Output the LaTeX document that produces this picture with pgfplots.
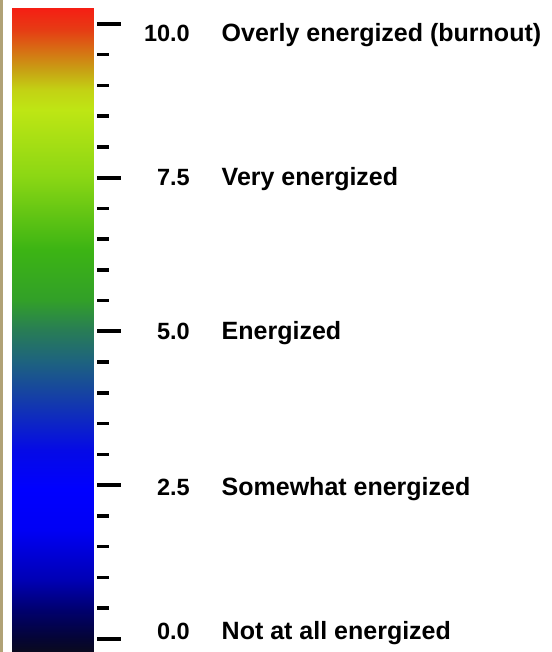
\documentclass[border=0pt]{standalone}
\usepackage{pgfplots}
\pgfplotsset{compat=1.18}
\usepackage{fontspec}
\setmainfont{Liberation Sans}
\definecolor{frametan}{RGB}{176,162,118}
\pgfplotsset{colormap={energy}{
 rgb255(0pt)=(10,10,30)
 rgb255(19pt)=(5,5,50)
 rgb255(68pt)=(0,0,110)
 rgb255(117pt)=(0,0,180)
 rgb255(198pt)=(0,0,245)
 rgb255(263pt)=(0,0,255)
 rgb255(328pt)=(5,10,230)
 rgb255(410pt)=(20,60,170)
 rgb255(475pt)=(30,100,125)
 rgb255(523pt)=(40,125,85)
 rgb255(572pt)=(50,160,40)
 rgb255(654pt)=(60,180,20)
 rgb255(774pt)=(140,215,20)
 rgb255(881pt)=(190,230,20)
 rgb255(914pt)=(195,210,20)
 rgb255(946pt)=(200,160,20)
 rgb255(979pt)=(215,110,20)
 rgb255(1011pt)=(230,60,20)
 rgb255(1046pt)=(245,30,20)
}}
\pgfplotstableread{
x y
0 -0.2114
81 -0.2114
0 -0.02
81 -0.02
0 0.47
81 0.47
0 0.96
81 0.96
0 1.77
81 1.77
0 2.42
81 2.42
0 3.07
81 3.07
0 3.89
81 3.89
0 4.54
81 4.54
0 5.02
81 5.02
0 5.51
81 5.51
0 6.33
81 6.33
0 7.53
81 7.53
0 8.60
81 8.60
0 8.93
81 8.93
0 9.25
81 9.25
0 9.58
81 9.58
0 9.90
81 9.90
0 10.255
81 10.255
}\bardata
\begin{document}
\begin{tikzpicture}
\fill[frametan] (0,0) rectangle (3pt,652pt);
\begin{axis}[
  at={(12pt,0pt)}, anchor=south west,
  scale only axis, width=85pt, height=643.7pt,
  xmin=0, xmax=85, ymin=-0.2114, ymax=10.255,
  axis x line=none,
  axis y line*=right,
  axis line style={draw=none},
  xtick=\empty,
  ytick={0,2.5,5,7.5,10},
  minor y tick num=4,
  tick align=outside,
  yticklabels={,,,,},
  major tick length=23.5pt,
  minor tick length=11.5pt,
  every major tick/.append style={line width=4pt, black},
  every minor tick/.append style={line width=3.5pt, black},
  colormap name=energy,
  point meta min=-0.2114, point meta max=10.255,
  clip=false,
]
\addplot[surf, shader=interp, mesh/cols=2, point meta=y, draw=none] table {\bardata};
\begin{scope}[every node/.style={inner sep=0pt, black}]
\node[anchor=base east, font=\fontsize{23.5}{28}\selectfont\bfseries] at (axis cs:178,9.707) {10.0};
\node[anchor=base east, font=\fontsize{23.5}{28}\selectfont\bfseries] at (axis cs:178,7.38) {7.5};
\node[anchor=base east, font=\fontsize{23.5}{28}\selectfont\bfseries] at (axis cs:178,4.873) {5.0};
\node[anchor=base east, font=\fontsize{23.5}{28}\selectfont\bfseries] at (axis cs:178,2.341) {2.5};
\node[anchor=base east, font=\fontsize{23.5}{28}\selectfont\bfseries] at (axis cs:178,-0.016) {0.0};
\node[anchor=base west, font=\fontsize{25}{30}\selectfont\bfseries] at (axis cs:209.5,9.707) {Overly energized (burnout)};
\node[anchor=base west, font=\fontsize{25}{30}\selectfont\bfseries] at (axis cs:209.5,7.38) {Very energized};
\node[anchor=base west, font=\fontsize{25}{30}\selectfont\bfseries] at (axis cs:209.5,4.873) {Energized};
\node[anchor=base west, font=\fontsize{25}{30}\selectfont\bfseries] at (axis cs:209.5,2.341) {Somewhat energized};
\node[anchor=base west, font=\fontsize{25}{30}\selectfont\bfseries] at (axis cs:209.5,-0.016) {Not at all energized};
\end{scope}
\end{axis}
\pgfresetboundingbox
\useasboundingbox (0,0) rectangle (551pt,652pt);
\end{tikzpicture}
\end{document}
